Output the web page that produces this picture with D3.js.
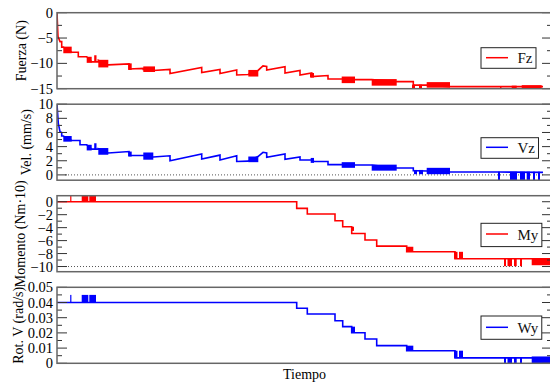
<!DOCTYPE html>
<html><head><meta charset="utf-8">
<script src="https://cdn.jsdelivr.net/npm/d3@7"></script>
<style>body{margin:0;background:#fff}svg{display:block}</style>
</head><body>
<svg id="c" width="550" height="382"></svg>
<script>
// ---- data (time in arbitrary units, value) ----
const timeDomain = [0, 495];

const fzLine = [[0,0],[1,-4.7],[3,-5.7],[4.7,-5.7],[4.7,-6.8],[6.3,-6.8],[14.7,-7.8],[21.3,-7.8],[21.3,-8.7],[29.7,-8.7],[34.7,-9.7],[38,-9.7],[38,-8.55],[38.7,-8.55],[38.7,-9.7],[41.3,-9.7],[41.3,-9.4],[51.3,-10.3],[72,-10.1],[72,-11.1],[86.3,-11.0],[86.3,-11.2],[96.3,-11.4],[113,-11.2],[113,-12],[144.7,-10.8],[144.7,-11.8],[163,-11.2],[163,-12],[179.7,-11.3],[179.7,-12.3],[191,-12.2],[201,-11.4],[206,-10.5],[209.7,-10.6],[209.7,-11.3],[228,-10.65],[228,-11.9],[243,-11.4],[243,-12.3],[254.7,-11.9],[254.7,-12.6],[271,-12.4],[271,-13.1],[284.7,-13.1],[298,-13.2],[314.7,-13.2],[339.7,-13.6],[356.3,-13.6],[356.3,-14.3],[369.7,-14.3],[393,-14.6],[486,-14.6]];
const fzBands = [[6.3,14.7,-8.0,-6.7],[29.7,34.7,-9.9,-8.7],[41.3,51.3,-10.8,-9.3],[71.3,74.7,-11.3,-10.0],[86.3,98,-11.7,-10.6],[191.3,201.3,-12.6,-11.3],[253,257,-12.8,-11.9],[284.7,298,-13.9,-12.6],[314.7,339.7,-14.4,-13.1],[355,358,-15,-14.2],[362,365,-15,-14.2],[369.7,393,-14.8,-13.7],[443,444.5,-14.9,-14.6],[454.7,459.7,-14.95,-14.4],[464.7,484.7,-14.95,-14.3]];

const vzLine = [[0,10],[1.3,7.3],[3,6.1],[4.7,6.0],[4.7,5.5],[6.3,5.5],[14.7,4.86],[23,4.86],[23,4.26],[29.7,4.26],[34.7,3.65],[38,3.65],[38,4.35],[38.7,4.35],[38.7,3.65],[41.3,3.65],[41.3,3.7],[51.3,3.09],[72,3.3],[72,2.75],[86.3,2.75],[96.3,2.53],[113,2.7],[113,2.0],[144.7,2.95],[144.7,2.25],[163,2.8],[163,2.1],[179.7,2.7],[179.7,1.9],[191,1.95],[201,2.6],[206,3.2],[209.7,3.1],[209.7,2.5],[228,2.95],[228,2.2],[243,2.55],[243,2.1],[254.7,2.1],[257,1.9],[271,1.9],[271,1.45],[284.7,1.45],[298,1.4],[314.7,1.4],[339.7,0.98],[356.3,0.98],[356.3,0.6],[369.7,0.55],[393,0.4],[443,0.4],[486,0.35]];
const vzBands = [[6.3,14.7,4.7,5.5],[29.7,34.7,3.46,4.26],[41.3,51.3,2.85,3.8],[71.3,74.7,2.6,3.3],[86.3,96.3,2.15,3.17],[191.3,201.3,1.8,2.6],[253.7,257,1.7,2.4],[284.7,298,1.0,1.8],[314.7,339.7,0.6,1.45],[357,360,0.1,0.7],[362,366,0.1,0.7],[369.7,393,0.1,1.0],[441,443,-0.75,0.45],[453,460,-0.75,0.45],[463,468,-0.75,0.45],[469.7,473,-0.75,0.45],[476,478,-0.75,0.45],[481,483,-0.75,0.45]];

const myLine = [[0,0],[239.7,0],[239.7,-1.03],[250.3,-1.03],[250.3,-1.9],[278,-1.9],[278,-2.93],[285.7,-2.93],[285.7,-3.86],[294.7,-3.86],[294.7,-4.9],[308,-4.9],[308,-5.9],[319.7,-5.9],[319.7,-6.85],[349.7,-6.85],[349.7,-7.73],[398,-7.73],[398,-8.8],[495,-8.8]];
const myBands = [[13.2,14.4,0,0.93],[24.7,31.3,0,0.93],[32.3,39,0,0.93],[294.5,297,-4.5,-3.86],[349,356.3,-7.73,-6.95],[397,400.5,-8.8,-7.73],[402,406,-8.8,-7.73],[447,449,-9.95,-8.8],[450.5,455,-9.95,-8.8],[457,459.7,-9.95,-8.8],[463,465,-9.95,-8.8],[474.7,495,-9.8,-8.8]];

const wyLine = [[0,0.04],[239.7,0.04],[239.7,0.0362],[250.3,0.0362],[250.3,0.0324],[278,0.0324],[278,0.028],[285.7,0.028],[285.7,0.0241],[294.7,0.0241],[294.7,0.0201],[308,0.0201],[308,0.016],[319.7,0.016],[319.7,0.0116],[349.7,0.0116],[349.7,0.0083],[398,0.0083],[398,0.0036],[495,0.0036]];
const wyBands = [[13.2,14.4,0.04,0.045],[24.7,31.3,0.04,0.045],[32.3,39,0.04,0.045],[294.7,298,0.0201,0.0241],[349,356.3,0.0083,0.0116],[397,400.5,0.0036,0.0083],[402,406,0.0036,0.0083],[447,449,0,0.0036],[450.5,455,0,0.0036],[457,459.7,0,0.0036],[463,465,0,0.0036],[474.7,495,0,0.0045]];

const fzMajor = [0,-5,-10,-15], fzMinor = [-2.5,-7.5,-12.5];
const vzMajor = [0,2,4,6,8,10], vzMinor = [1,3,5,7,9];
const myMajor = [0,-2,-4,-6,-8,-10], myMinor = [-1,-3,-5,-7,-9];
const wyMajor = [0,0.01,0.02,0.03,0.04,0.05], wyMinor = [0.005,0.015,0.025,0.035,0.045];

const panels = [
  {label:"Fuerza (N)", name:"Fz", color:"#ff0000", line:fzLine, bands:fzBands, domain:[-15,0], major:fzMajor, minor:fzMinor, fmt:d3.format("d"), dotted:null,
   top:12.7, labelX:26, legTop:35, legH:20.6, legLine:45},
  {label:"Vel. (mm/s)", name:"Vz", color:"#0000ff", line:vzLine, bands:vzBands, domain:[-0.75,10], major:vzMajor, minor:vzMinor, fmt:d3.format("d"), dotted:[8,486,0],
   top:104.2, labelX:31, legTop:33.5, legH:20.6, legLine:43.1},
  {label:"Momento (Nm·10)", name:"My", color:"#ff0000", line:myLine, bands:myBands, domain:[-10.8,0.93], major:myMajor, minor:myMinor, fmt:d3.format("d"), dotted:[8,466,-10],
   top:195.7, labelX:24.5, legTop:27.6, legH:23.3, legLine:38.3},
  {label:"Rot. V (rad/s)", name:"Wy", color:"#0000ff", line:wyLine, bands:wyBands, domain:[0,0.05], major:wyMajor, minor:wyMinor, fmt:(d)=> d===0?"0":d3.format(".2f")(d), dotted:null,
   top:287.3, labelX:23, legTop:28.7, legH:23.3, legLine:40}
];

const svg = d3.select("#c");
const X0 = 57, X1 = 552, H = 76;
const x = d3.scaleLinear().domain(timeDomain).range([X0, X1]);
const serif = "Liberation Serif, Times New Roman, Times, DejaVu Serif, serif";

panels.forEach((p, i) => {
  const y = d3.scaleLinear().domain(p.domain).range([p.top + H, p.top]);
  const g = svg.append("g");
  const cid = "clip" + i;
  svg.append("clipPath").attr("id", cid).append("rect")
    .attr("x", X0).attr("y", p.top).attr("width", X1 - X0).attr("height", H);

  if (p.dotted) {
    g.append("line").attr("x1", x(p.dotted[0])).attr("x2", x(p.dotted[1]))
      .attr("y1", y(p.dotted[2])).attr("y2", y(p.dotted[2]))
      .attr("stroke", "#555").attr("stroke-width", 1).attr("stroke-dasharray", "1,2");
  }

  const plot = g.append("g").attr("clip-path", `url(#${cid})`);
  plot.selectAll("rect.band").data(p.bands).join("rect").attr("class","band")
    .attr("x", d => x(d[0])).attr("width", d => Math.max(1.2, x(d[1]) - x(d[0])))
    .attr("y", d => y(d[3])).attr("height", d => y(d[2]) - y(d[3]))
    .attr("fill", p.color);
  plot.append("path").datum(p.line)
    .attr("d", d3.line().x(d => x(d[0])).y(d => y(d[1])))
    .attr("fill", "none").attr("stroke", p.color).attr("stroke-width", 1.6);

  const tk = g.append("g").attr("stroke", "#333").attr("stroke-width", 1);
  p.major.forEach(v => {
    tk.append("line").attr("x1", X0).attr("x2", X0 + 10).attr("y1", y(v)).attr("y2", y(v));
    tk.append("line").attr("x1", X1 - 10).attr("x2", X1).attr("y1", y(v)).attr("y2", y(v));
  });
  p.minor.forEach(v => {
    tk.append("line").attr("x1", X0).attr("x2", X0 + 5).attr("y1", y(v)).attr("y2", y(v));
    tk.append("line").attr("x1", X1 - 5).attr("x2", X1).attr("y1", y(v)).attr("y2", y(v));
  });

  g.append("rect").attr("x", X0).attr("y", p.top).attr("width", X1 - X0).attr("height", H)
    .attr("fill", "none").attr("stroke", "#666").attr("stroke-width", 1.5);

  g.selectAll("text.tl").data(p.major).join("text").attr("class","tl")
    .attr("x", 53).attr("y", d => y(d)).attr("dy", "0.35em")
    .attr("text-anchor", "end").attr("font-family", serif).attr("font-size", 14.5)
    .attr("fill", "#000").text(p.fmt);

  g.append("text").attr("transform", `translate(${p.labelX},${p.top + H/2}) rotate(-90)`)
    .attr("text-anchor", "middle").attr("font-family", serif).attr("font-size", 14)
    .attr("fill", "#000").text(p.label);

  const lg = g.append("g");
  const box = lg.append("rect").attr("x", 481).attr("y", p.top + p.legTop)
    .attr("height", p.legH).attr("fill", "#fff").attr("stroke", "#222").attr("stroke-width", 1);
  lg.append("line").attr("x1", 486).attr("x2", 508)
    .attr("y1", p.top + p.legLine).attr("y2", p.top + p.legLine)
    .attr("stroke", p.color).attr("stroke-width", 1.5);
  const t = lg.append("text").attr("x", 517.5).attr("y", p.top + p.legLine + 5.5)
    .attr("font-family", serif).attr("font-size", 15).attr("fill", "#111").text(p.name);
  const w = t.node().getComputedTextLength();
  box.attr("width", 517.5 + w + 3.5 - 481);
});

svg.append("text").attr("x", (283 + 326) / 2).attr("y", 379).attr("text-anchor", "middle")
  .attr("font-family", serif).attr("font-size", 14).attr("fill", "#000").text("Tiempo");
</script>
</body></html>
